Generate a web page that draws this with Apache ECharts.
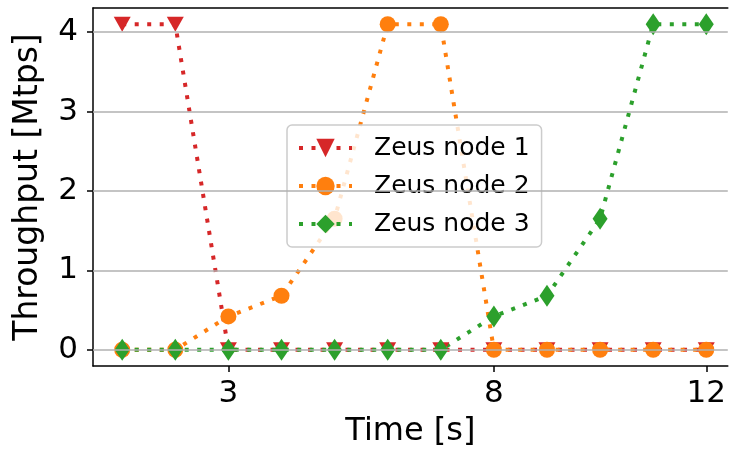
<!DOCTYPE html>
<html>
<head>
<meta charset="utf-8">
<script src="https://cdn.jsdelivr.net/npm/echarts@6/dist/echarts.min.js"></script>
<style>
  html, body { margin: 0; padding: 0; background: #fff; }
  #chart { width: 729px; height: 455px; }
</style>
</head>
<body>
<div id="chart"></div>
<script>
const times = [1, 2, 3, 4, 5, 6, 7, 8, 9, 10, 11, 12];
const node1 = [4.1, 4.1, 0, 0, 0, 0, 0, 0, 0, 0, 0, 0];
const node2 = [0, 0, 0.42, 0.68, 1.65, 4.1, 4.1, 0, 0, 0, 0, 0];
const node3 = [0, 0, 0, 0, 0, 0, 0, 0.42, 0.68, 1.65, 4.1, 4.1];
const xTicks = [3, 8, 12];
const yTicks = [0, 1, 2, 3, 4];

const font = 'DejaVu Sans';
const dotted = { width: 4, type: [4, 8.5], cap: 'butt' };

function pairs(ys) {
  return times.map((t, i) => [t, ys[i]]);
}

function line(name, ys, color, symbol, size, rotate) {
  return {
    name: name,
    type: 'line',
    data: pairs(ys),
    symbol: symbol,
    symbolSize: size,
    symbolRotate: rotate || 0,
    showAllSymbol: true,
    color: color,
    itemStyle: { color: color, opacity: 1 },
    lineStyle: Object.assign({ color: color }, dotted),
    emphasis: { disabled: true },
    animation: false
  };
}

const spine = { show: true, onZero: false, lineStyle: { color: '#000', width: 1.5 } };

const chart = echarts.init(document.getElementById('chart'));
chart.setOption({
  backgroundColor: '#fff',
  // right edge of the axes box falls just outside the picture
  grid: { left: 93, top: 8, right: 0, bottom: 89 },
  legend: {
    orient: 'vertical',
    left: 287, top: 125,
    padding: [8, 12, 8, 10],
    itemGap: 8,
    itemWidth: 53, itemHeight: 23,
    lineStyle: { width: 4, type: [4, 8.5], cap: 'butt' },
    backgroundColor: 'rgba(255,255,255,0.8)',
    borderColor: '#cccccc', borderWidth: 1.5, borderRadius: 5,
    textStyle: { fontFamily: font, fontSize: 25, lineHeight: 30, color: '#000', padding: [0, 0, 0, 17] },
    data: ['Zeus node 1', 'Zeus node 2', 'Zeus node 3']
  },
  xAxis: [{
    type: 'value', min: 0.45, max: 12.405,
    name: 'Time [s]', nameLocation: 'middle', nameGap: 50,
    nameTextStyle: { fontFamily: font, fontSize: 32, color: '#000' },
    axisLine: spine,
    axisTick: { show: true, length: 6, customValues: xTicks, lineStyle: { color: '#000', width: 1.5 } },
    axisLabel: { customValues: xTicks, margin: 12, fontFamily: font, fontSize: 31, color: '#000' },
    splitLine: { show: false }
  }, {
    type: 'value', position: 'top', min: 0.45, max: 12.405,
    axisLine: spine, axisTick: { show: false }, axisLabel: { show: false }, splitLine: { show: false }
  }],
  yAxis: {
    type: 'value', min: -0.205, max: 4.305,
    name: 'Throughput [Mtps]', nameLocation: 'middle', nameGap: 48,
    nameTextStyle: { fontFamily: font, fontSize: 33, color: '#000' },
    axisLine: spine,
    axisTick: { show: true, length: 6, customValues: yTicks, lineStyle: { color: '#000', width: 1.5 } },
    axisLabel: { customValues: yTicks, margin: 15, fontFamily: font, fontSize: 31, color: '#000' },
    splitLine: { show: false }
  },
  series: [
    {
      type: 'line', data: [], silent: true, animation: false,
      markLine: {
        silent: true, symbol: 'none', label: { show: false },
        lineStyle: { color: '#b0b0b0', width: 1.5, type: 'solid' },
        data: yTicks.map(v => ({ yAxis: v }))
      }
    },
    line('Zeus node 1', node1, '#d62728', 'triangle', [17, 15], 180),
    line('Zeus node 2', node2, '#ff7f0e', 'circle', 16),
    line('Zeus node 3', node3, '#2ca02c', 'diamond', [15, 22])
  ]
});
</script>
</body>
</html>
